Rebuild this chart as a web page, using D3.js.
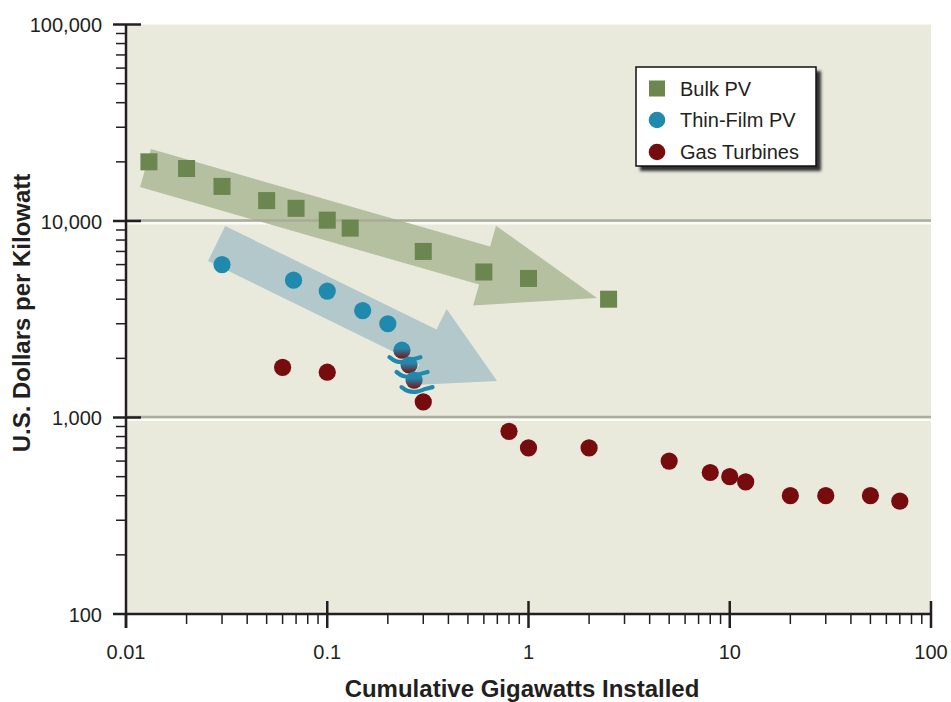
<!DOCTYPE html>
<html><head><meta charset="utf-8">
<script src="https://cdn.jsdelivr.net/npm/d3@7/dist/d3.min.js"></script>
<style>
html,body{margin:0;padding:0;background:#fff;}
svg{display:block;font-family:"Liberation Sans",Arial,Helvetica,sans-serif;}
</style></head>
<body>
<svg id="chart" width="951" height="702"></svg>
<script>
// ---- data ----
const bulkX = [0.013, 0.02, 0.03, 0.05, 0.07, 0.1, 0.13, 0.3, 0.6, 1, 2.5];
const bulkY = [20000, 18500, 15000, 12700, 11600, 10100, 9200, 7000, 5500, 5100, 4000];
const thinX = [0.03, 0.068, 0.1, 0.15, 0.2];
const thinY = [6000, 5000, 4400, 3500, 3000];
const crossX = [0.235, 0.255, 0.27];          // thin-film points shading into gas turbines
const crossY = [2200, 1850, 1550];
const gasX = [0.06, 0.1, 0.3, 0.8, 1, 2, 5, 8, 10, 12, 20, 30, 50, 70];
const gasY = [1800, 1700, 1200, 850, 700, 700, 600, 525, 500, 470, 400, 400, 400, 375];
const seriesNames = ["Bulk PV", "Thin-Film PV", "Gas Turbines"];
const xTickValues = [0.01, 0.1, 1, 10, 100];
const xTickLabels = ["0.01", "0.1", "1", "10", "100"];
const yTickValues = [100, 1000, 10000, 100000];
const yTickLabels = ["100", "1,000", "10,000", "100,000"];
const gridValues = [1000, 10000];
// trend arrows: [start x, start y, tip x, tip y] in data units
const greenArrow = [0.0125, 18600, 2.19, 4060];
const blueArrow = [0.0282, 7680, 0.698, 1534];
const xTitle = "Cumulative Gigawatts Installed";
const yTitle = "U.S. Dollars per Kilowatt";

// ---- styles ----
const C = {bulk:"#6b864e", thin:"#2089ae", gas:"#760c0e", bg:"#e9eadc",
  ink:"#231f20", grid:"#a7aa98", greenArrow:"#b4c0a0", blueArrow:"#b2c8ca"};
const svg = d3.select("#chart");
const x = d3.scaleLog().domain([0.01, 100]).range([126, 931]);
const y = d3.scaleLog().domain([100, 100000]).range([614, 24.5]);

const defs = svg.append("defs");
const grad = defs.append("linearGradient").attr("id","cross").attr("x1",0).attr("y1",0).attr("x2",0).attr("y2",1);
grad.append("stop").attr("offset","0%").attr("stop-color",C.thin);
grad.append("stop").attr("offset","40%").attr("stop-color","#2486aa");
grad.append("stop").attr("offset","100%").attr("stop-color","#7a1012");
const f = defs.append("filter").attr("id","shadow").attr("x","-10%").attr("y","-10%").attr("width","130%").attr("height","130%");
f.append("feGaussianBlur").attr("stdDeviation",1.6);

// plot background
svg.append("rect").attr("x",x(0.01)).attr("y",y(100000)).attr("width",x(100)-x(0.01)).attr("height",y(100)-y(100000)).attr("fill",C.bg);

// white highlight under gridlines
svg.selectAll(".gridw").data(gridValues).join("line")
  .attr("x1",x(0.01)).attr("x2",x(100)).attr("y1",d=>y(d)+2.2).attr("y2",d=>y(d)+2.2)
  .attr("stroke","#fbfbf7").attr("stroke-width",2.5);

// arrows
function arrowPath(a, bodyW, headW, headL){
  const x0=x(a[0]), y0=y(a[1]), x1=x(a[2]), y1=y(a[3]);
  const dx=x1-x0, dy=y1-y0, L=Math.hypot(dx,dy), ux=dx/L, uy=dy/L, px=-uy, py=ux;
  const b=L-headL;
  const pt=(s,t)=>[x0+ux*s+px*t, y0+uy*s+py*t];
  const pts=[pt(0,-bodyW/2),pt(b,-bodyW/2),pt(b,-headW/2),pt(L,0),pt(b,headW/2),pt(b,bodyW/2),pt(0,bodyW/2)];
  return d3.line()(pts)+"Z";
}
svg.append("path").attr("d",arrowPath(greenArrow,39.6,83,117)).attr("fill",C.greenArrow);
svg.append("path").attr("d",arrowPath(blueArrow,39,85,77)).attr("fill",C.blueArrow);

// gray gridlines
svg.selectAll(".grid").data(gridValues).join("line")
  .attr("x1",x(0.01)).attr("x2",x(100)).attr("y1",d=>y(d)-0.5).attr("y2",d=>y(d)-0.5)
  .attr("stroke",C.grid).attr("stroke-width",2.4).attr("opacity",0.95);

// axes
const ax = svg.append("g").attr("stroke",C.ink);
const yMinor=[], xMinor=[];
for (let e=2;e<5;e++) for (let m=2;m<10;m++) yMinor.push(m*Math.pow(10,e));
for (let e=-2;e<2;e++) for (let m=2;m<10;m++) xMinor.push(m*Math.pow(10,e));
ax.selectAll(".ymin").data(yMinor).join("line").attr("x1",x(0.01)-10).attr("x2",x(0.01))
  .attr("y1",d=>y(d)).attr("y2",d=>y(d)).attr("stroke-width",1.5);
ax.selectAll(".xmin").data(xMinor).join("line").attr("y1",y(100)).attr("y2",y(100)+10)
  .attr("x1",d=>x(d)).attr("x2",d=>x(d)).attr("stroke-width",1.5);
ax.selectAll(".ymaj").data(yTickValues).join("line").attr("x1",x(0.01)-13).attr("x2",d=>d===100?x(0.01):x(0.01)+15)
  .attr("y1",d=>y(d)).attr("y2",d=>y(d)).attr("stroke-width",2.5);
ax.selectAll(".xmaj").data(xTickValues).join("line").attr("y1",d=>d===0.01?y(100):y(100)-13).attr("y2",y(100)+14)
  .attr("x1",d=>x(d)).attr("x2",d=>x(d)).attr("stroke-width",2.5);
ax.append("line").attr("x1",x(0.01)).attr("x2",x(0.01)).attr("y1",y(100000)).attr("y2",y(100)+14).attr("stroke-width",2.5);
ax.append("line").attr("x1",x(0.01)).attr("x2",x(100)).attr("y1",y(100)).attr("y2",y(100)).attr("stroke-width",2.5);

svg.selectAll(".ylab").data(yTickValues).join("text")
  .attr("x",x(0.01)-24).attr("y",d=>y(d)+7.5).attr("text-anchor","end")
  .attr("font-size",20).attr("fill",C.ink).text((d,i)=>yTickLabels[i]);
svg.selectAll(".xlab").data(xTickValues).join("text")
  .attr("x",d=>x(d)).attr("y",659).attr("text-anchor","middle")
  .attr("font-size",20).attr("fill",C.ink).text((d,i)=>xTickLabels[i]);
svg.append("text").attr("x",522).attr("y",697).attr("text-anchor","middle").attr("font-weight","bold")
  .attr("font-size",24).attr("fill",C.ink).text(xTitle);
svg.append("text").attr("transform","translate(30,313) rotate(-90)").attr("text-anchor","middle").attr("font-weight","bold")
  .attr("font-size",24).attr("fill",C.ink).text(yTitle);

// points
const sq=17, r=8.6;
svg.selectAll(".bulk").data(bulkX.map((v,i)=>[v,bulkY[i]])).join("rect")
  .attr("x",d=>x(d[0])-sq/2).attr("y",d=>y(d[1])-sq/2).attr("width",sq).attr("height",sq).attr("fill",C.bulk);
svg.selectAll(".thin").data(thinX.map((v,i)=>[v,thinY[i]])).join("circle")
  .attr("cx",d=>x(d[0])).attr("cy",d=>y(d[1])).attr("r",r).attr("fill",C.thin);
svg.selectAll(".gas").data(gasX.map((v,i)=>[v,gasY[i]])).join("circle")
  .attr("cx",d=>x(d[0])).attr("cy",d=>y(d[1])).attr("r",r).attr("fill",C.gas);
const squig = d3.line().curve(d3.curveCatmullRom);
crossX.forEach((v,i)=>{
  const cx=x(v), cy=y(crossY[i]);
  svg.append("circle").attr("cx",cx).attr("cy",cy).attr("r",r).attr("fill","url(#cross)");
  const ox=cx+3, oy=cy+9;
  svg.append("path").attr("d",squig([[ox-15.5,oy-2],[ox-9,oy+2],[ox,oy+2.5],[ox+8,oy],[ox+15.5,oy-2]]))
    .attr("fill","none").attr("stroke",C.thin).attr("stroke-width",4.2).attr("stroke-linecap","round");
});

// legend
const lg = svg.append("g").attr("transform","translate(636,67)");
lg.append("rect").attr("x",4).attr("y",4).attr("width",181).attr("height",100).attr("fill","#333").attr("filter","url(#shadow)");
lg.append("rect").attr("x",0).attr("y",0).attr("width",180).attr("height",99).attr("fill","#fff").attr("stroke","#111").attr("stroke-width",1.5);
const ly=[21.5,53,85];
lg.append("rect").attr("x",13).attr("y",ly[0]-8).attr("width",16).attr("height",16).attr("fill",C.bulk);
lg.append("circle").attr("cx",21).attr("cy",ly[1]).attr("r",8.3).attr("fill",C.thin);
lg.append("circle").attr("cx",21).attr("cy",ly[2]).attr("r",8.3).attr("fill",C.gas);
lg.selectAll(".lt").data(seriesNames).join("text").attr("x",44).attr("y",(d,i)=>ly[i]+7)
  .attr("font-size",20).attr("fill",C.ink).text(d=>d);
</script>
</body></html>
